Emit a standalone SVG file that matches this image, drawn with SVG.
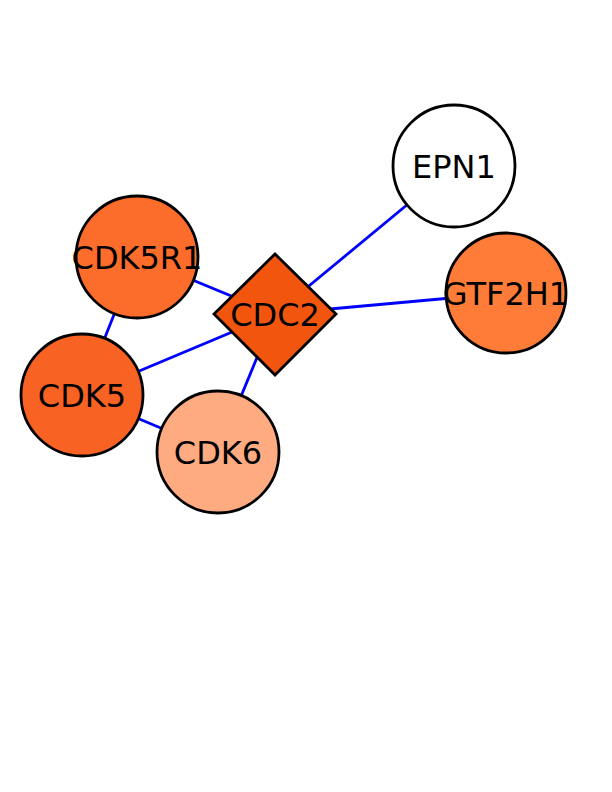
<svg xmlns="http://www.w3.org/2000/svg" width="612" height="792" viewBox="0 0 612 792">
<style>
.e{stroke:#0000ff;stroke-width:2.8;fill:none}
.n{stroke:#000;stroke-width:2.8}
text{font-family:"DejaVu Sans",sans-serif;font-size:32px;fill:#000;text-anchor:middle}
</style>
<rect width="612" height="792" fill="#fff"/>
<g id="edges">
<line class="e" x1="275" y1="314" x2="454" y2="166"/>
<line class="e" x1="275" y1="314" x2="506" y2="293"/>
<line class="e" x1="275" y1="314" x2="137" y2="257"/>
<line class="e" x1="275" y1="314" x2="82" y2="395"/>
<line class="e" x1="275" y1="314" x2="218" y2="452"/>
<line class="e" x1="137" y1="257" x2="82" y2="395"/>
<line class="e" x1="82" y1="395" x2="218" y2="452"/>
</g>
<g id="EPN1"><circle class="n" cx="454" cy="166" r="61" fill="#fff"/><text x="454" y="178">EPN1</text></g>
<g id="GTF2H1"><circle class="n" cx="506" cy="293" r="60" fill="#ff7c38"/><text x="506" y="305">GTF2H1</text></g>
<g id="CDK5R1"><circle class="n" cx="137" cy="257" r="61" fill="#fc6c2a"/><text x="137" y="269">CDK5R1</text></g>
<g id="CDK5"><circle class="n" cx="82" cy="395" r="61" fill="#f86222"/><text x="82" y="407">CDK5</text></g>
<g id="CDK6"><circle class="n" cx="218" cy="452" r="61" fill="#ffab82"/><text x="218" y="464">CDK6</text></g>
<g id="CDC2"><polygon class="n" points="275,254 336,314 275,375 214,314" fill="#f2560e"/><text x="275" y="326">CDC2</text></g>
</svg>
